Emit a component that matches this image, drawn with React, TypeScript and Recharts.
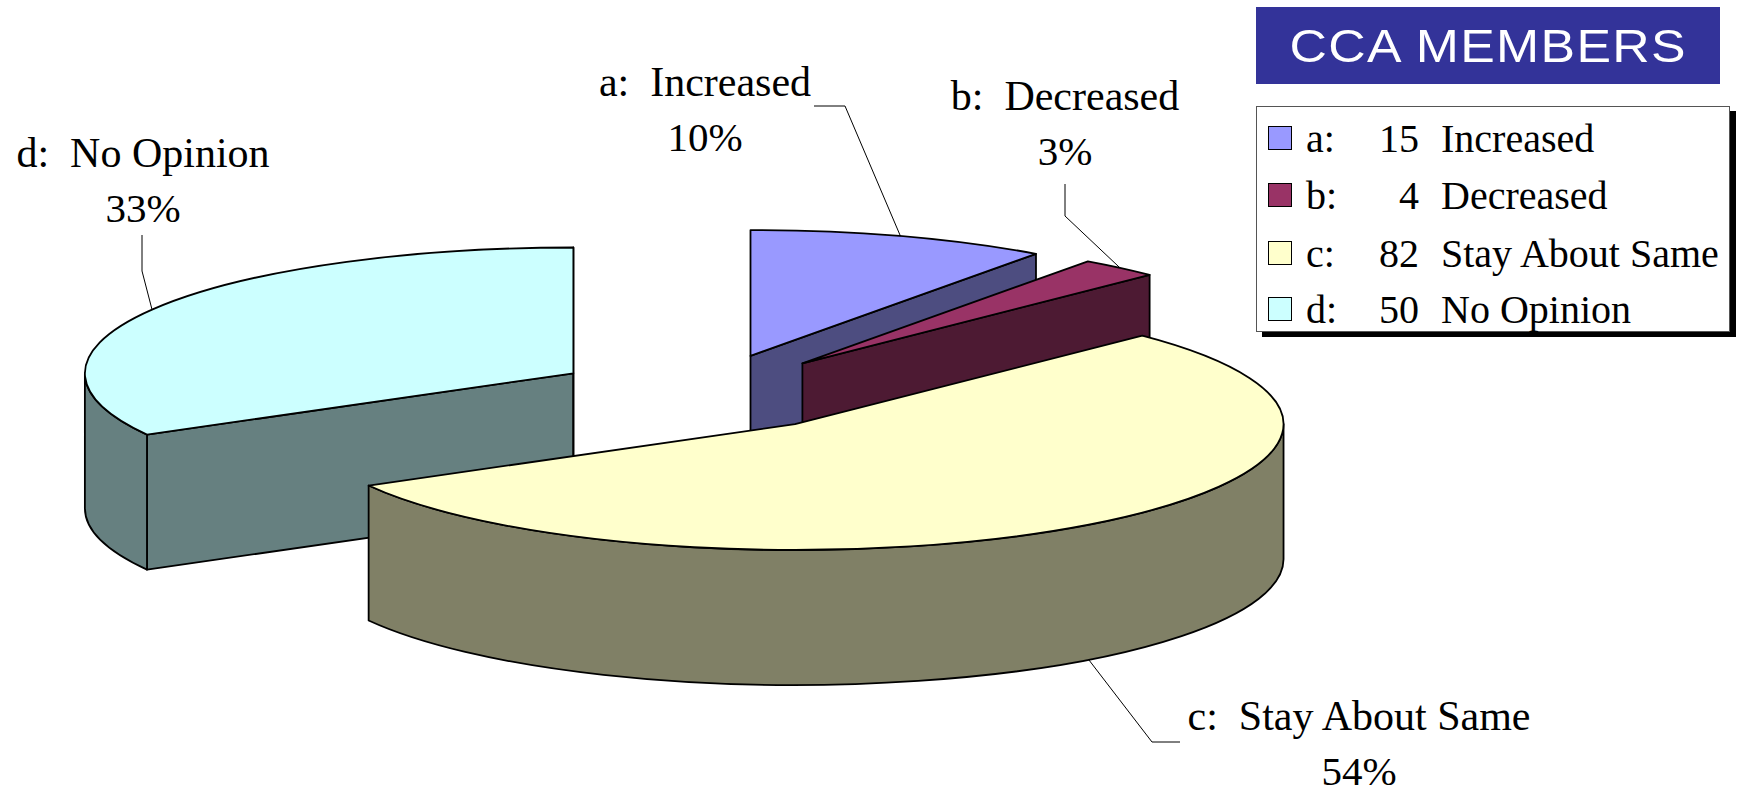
import { PieChart, Pie, Cell, Legend } from 'recharts';

const letters = ['a', 'b', 'c', 'd'];
const labels = ['Increased', 'Decreased', 'Stay About Same', 'No Opinion'];
const counts = [15, 4, 82, 50];
const topColors = ['#9999FF', '#993366', '#FFFFCC', '#CCFFFF'];
const wallColors = ['#4D4D80', '#4D1A33', '#808066', '#668080'];

// paint order back to front: d wall sits behind c, so the pie starts at d
const paintOrder = [3, 0, 1, 2];
const data = paintOrder.map((i) => ({ name: letters[i], label: labels[i], value: counts[i] }));
const total = counts.reduce((a, b) => a + b, 0);
const START_ANGLE = 90 + (360 * counts[3]) / total;

// 3D look of the old pie
const SQUASH = 0.2575;
const DEPTH = 135;
const EXPLODE = 0.31;
const SERIF = '"Liberation Serif", "Times New Roman", serif';

// leader elbow, leader end, label centre and first baseline, per slice
const labelLayout: Record<string, { elbow: number[]; end: number[]; tx: number; ty: number; onWall?: boolean }> = {
  a: { elbow: [845, 106], end: [814, 106], tx: 705, ty: 96 },
  b: { elbow: [1065, 216], end: [1065, 184], tx: 1065, ty: 110 },
  c: { elbow: [1152, 742], end: [1180, 742], tx: 1359, ty: 730, onWall: true },
  d: { elbow: [142, 271], end: [142, 235], tx: 143, ty: 167 },
};

const rad = (deg: number) => (deg * Math.PI) / 180;

/** Point on the squashed circle, after pushing the slice out along its mid angle */
function project(cx: number, cy: number, r: number, mid: number, angle: number, radius = r) {
  const ox = cx + r * EXPLODE * Math.cos(rad(mid));
  const oy = cy - r * SQUASH * EXPLODE * Math.sin(rad(mid));
  return {
    ox,
    oy,
    x: ox + radius * Math.cos(rad(angle)),
    y: oy - radius * SQUASH * Math.sin(rad(angle)),
  };
}

function Slice3D(props: any) {
  const { cx, cy, outerRadius: r, startAngle: s, endAngle: e, fill, name } = props;
  const mid = (s + e) / 2;
  const wall = wallColors[letters.indexOf(name)];
  const start = project(cx, cy, r, mid, s);
  const end = project(cx, cy, r, mid, e);
  const ry = r * SQUASH;
  const { ox, oy } = start;
  const stroke = { stroke: '#000', strokeWidth: 1.8, strokeLinejoin: 'round' as const };

  const face = (p: { x: number; y: number }) =>
    `M${ox},${oy} L${p.x},${p.y} L${p.x},${p.y + DEPTH} L${ox},${oy + DEPTH} Z`;

  // outer wall only where the rim faces the viewer
  const walls: string[] = [];
  [[0, -180], [360, 180]].forEach(([hi, lo]) => {
    const a = Math.min(s, hi);
    const b = Math.max(e, lo);
    if (a <= b) return;
    const p = project(cx, cy, r, mid, a);
    const q = project(cx, cy, r, mid, b);
    const large = a - b > 180 ? 1 : 0;
    walls.push(
      `M${p.x},${p.y} A${r},${ry} 0 ${large} 1 ${q.x},${q.y} L${q.x},${q.y + DEPTH} A${r},${ry} 0 ${large} 0 ${p.x},${p.y + DEPTH} Z`,
    );
  });

  const top = `M${ox},${oy} L${start.x},${start.y} A${r},${ry} 0 ${s - e > 180 ? 1 : 0} 1 ${end.x},${end.y} Z`;

  return (
    <g>
      {Math.cos(rad(s)) < 0 && <path d={face(start)} fill={wall} {...stroke} />}
      {Math.cos(rad(e)) > 0 && <path d={face(end)} fill={wall} {...stroke} />}
      {walls.map((d) => (
        <path key={d} d={d} fill={wall} {...stroke} />
      ))}
      <path d={top} fill={fill} {...stroke} />
    </g>
  );
}

function SliceLabel(props: any) {
  const { cx, cy, outerRadius: r, midAngle, name, percent, label } = props;
  const layout = labelLayout[name];
  const p = project(cx, cy, r, midAngle, midAngle);
  const anchorY = p.y + (layout.onWall ? DEPTH : 0);
  return (
    <g>
      <polyline
        points={`${p.x},${anchorY} ${layout.elbow.join(',')} ${layout.end.join(',')}`}
        fill="none"
        stroke="#000"
        strokeWidth={1}
      />
      <text
        x={layout.tx}
        y={layout.ty}
        textAnchor="middle"
        fontFamily={SERIF}
        fontSize={42}
        fill="#000"
        style={{ whiteSpace: 'pre' }}
      >
        {`${name}:  ${label}`}
      </text>
      <text x={layout.tx} y={layout.ty + 55} textAnchor="middle" fontFamily={SERIF} fontSize={41} fill="#000">
        {`${Math.round(percent * 100)}%`}
      </text>
    </g>
  );
}

const rowBaselines = [150, 207, 265, 321];

function LegendPanel({ payload }: any) {
  const rows = [...(payload ?? [])].sort((a: any, b: any) => (a.value < b.value ? -1 : 1));
  const spanBase = { position: 'absolute' as const, lineHeight: '44px', whiteSpace: 'pre' as const };
  return (
    <div style={{ position: 'absolute', left: 0, top: 0, fontFamily: SERIF, fontSize: 40, color: '#000' }}>
      <div
        style={{
          position: 'absolute',
          left: 1256,
          top: 7,
          width: 464,
          height: 77,
          background: '#333399',
          color: '#fff',
          fontFamily: '"Liberation Sans", Arial, sans-serif',
          fontSize: 47,
          letterSpacing: 1.2,
          lineHeight: '77px',
          textAlign: 'center',
          whiteSpace: 'pre',
        }}
      >
        <span style={{ display: 'inline-block', transform: 'scaleX(1.102)' }}>CCA MEMBERS</span>
      </div>
      <div
        style={{
          position: 'absolute',
          left: 1256,
          top: 106,
          width: 472,
          height: 224,
          background: '#fff',
          border: '1px solid #555',
          boxShadow: '6px 5px 0 #000',
        }}
      />
      {rows.map((row: any, i: number) => (
        <div key={row.value}>
          <div
            style={{
              position: 'absolute',
              left: 1268,
              top: rowBaselines[i] - 24,
              width: 22,
              height: 22,
              background: row.color,
              border: '1.5px solid #000',
            }}
          />
          <span style={{ ...spanBase, left: 1306, top: rowBaselines[i] - 33 }}>{row.value}:</span>
          <span style={{ ...spanBase, left: 1359, width: 60, textAlign: 'right', top: rowBaselines[i] - 33 }}>
            {row.payload.value}
          </span>
          <span style={{ ...spanBase, left: 1441, top: rowBaselines[i] - 33 }}>{row.payload.label}</span>
        </div>
      ))}
    </div>
  );
}

export default function App() {
  return (
    <div style={{ position: 'absolute', left: 0, top: 0, width: 1737, height: 786, background: '#fff', overflow: 'hidden' }}>
      <PieChart width={1737} height={786} margin={{ top: 0, right: 0, bottom: 0, left: 0 }}>
        <Legend
          layout="vertical"
          align="right"
          verticalAlign="top"
          content={<LegendPanel />}
          wrapperStyle={{ position: 'absolute', left: 0, top: 0, width: 0, height: 0 }}
        />
        <Pie
          data={data}
          dataKey="value"
          nameKey="name"
          cx={704}
          cy={393}
          outerRadius={488.5}
          startAngle={START_ANGLE}
          endAngle={START_ANGLE - 360}
          isAnimationActive={false}
          rootTabIndex={-1}
          shape={Slice3D}
          activeShape={Slice3D}
          inactiveShape={Slice3D}
          label={SliceLabel}
          labelLine={false}
        >
          {data.map((d) => (
            <Cell key={d.name} fill={topColors[letters.indexOf(d.name)]} />
          ))}
        </Pie>
      </PieChart>
    </div>
  );
}
